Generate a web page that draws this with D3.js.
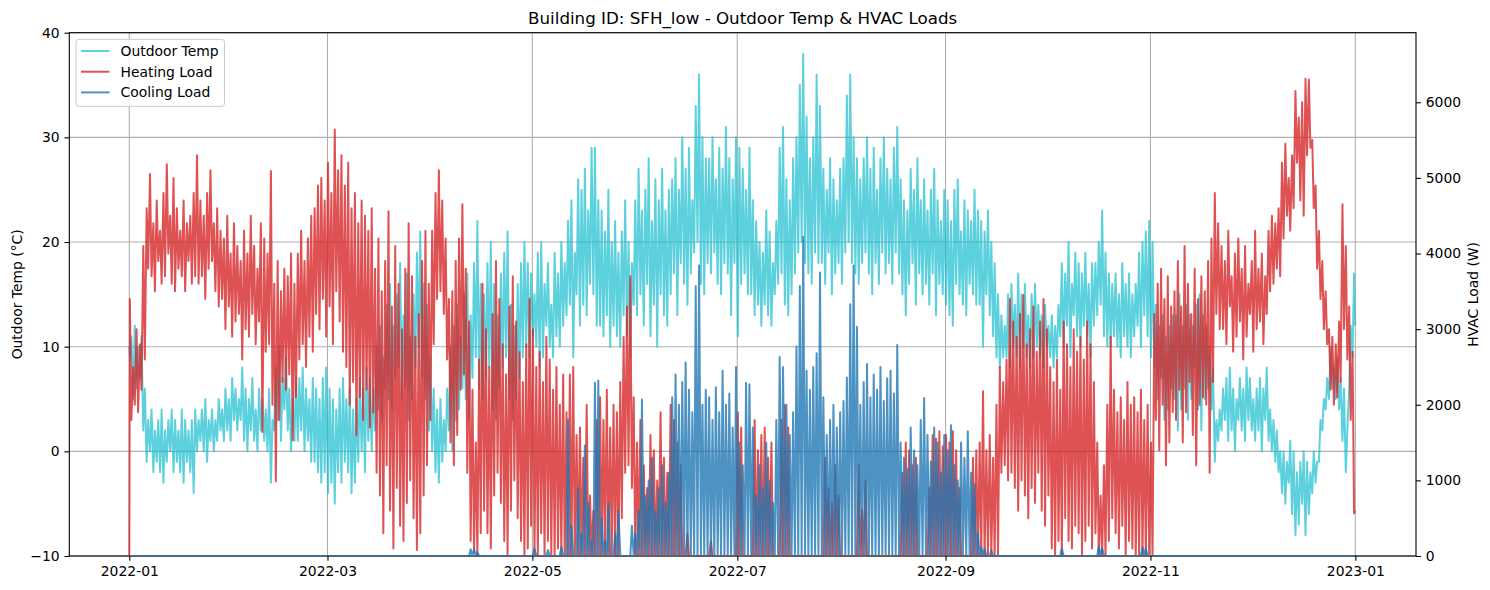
<!DOCTYPE html>
<html><head><meta charset="utf-8">
<script src="https://cdn.jsdelivr.net/npm/d3@7"></script>
<style>
body{margin:0;background:#fff}
svg{display:block}
text{font-family:"DejaVu Sans",sans-serif;fill:#000}
</style>
</head><body>
<svg id="chart" width="1490" height="590"></svg>
<script>
// ---------------- DATA (one value per day of 2022) ----------------
const title = "Building ID: SFH_low - Outdoor Temp & HVAC Loads";
const seriesNames = ["Outdoor Temp", "Heating Load", "Cooling Load"];
const leftTicks = [-10, 0, 10, 20, 30, 40];
const rightTicks = [0, 1000, 2000, 3000, 4000, 5000, 6000];
const yearStart = "2022-01-01";

// daily high outdoor temperature (°C)
const tempMax = [11,12,10,11,6,
3,4,2,3,4,2,3,4,3,2,4,3,2,3,4,
3,4,5,3,4,3,5,4,
6,5,7,6,5,8,
6,5,7,4,6,5,4,6,
3,
8,10,7,9,6,5,7,
7,8,6,5,7,
6,5,7,8,6,5,4,6,7,5,6,4,5,7,6,8,7,6,
10,12,9,14,16,12,15,18,13,17,11,15,19,21,16,14,
9,6,4,5,3,6,10,
12,14,11,15,17,13,18,22,16,
15,18,20,16,13,17,19,21,14,12,16,18,20,
18,17,15,19,20,16,18,14,19,17,20,18,
22,24,19,26,25,27,23,29,29,24,
23,21,25,20,22,19,21,24,20,18,
24,27,23,25,28,22,26,24,27,23,25,
26,28,25,30,27,29,24,33,36,30,28,
28,30,26,29,27,31,28,26,30,29,27,25,29,
24,22,20,19,23,21,18,22,
29,31,26,24,28,30,
35,38,32,28,30,36,33,
27,25,28,26,24,27,28,
34,36,30,28,
26,28,30,27,29,25,28,30,27,26,29,31,
26,24,23,27,25,28,24,26,23,25,27,24,22,25,
24,22,25,26,21,24,23,22,25,23,
22,21,23,20,18,
15,13,12,
15,16,14,17,15,16,13,15,16,14,
13,14,12,13,12,14,
18,17,20,16,19,18,17,19,16,18,
18,20,23,19,17,
16,17,15,18,16,17,15,16,
19,20,21,22,20,
14,12,13,11,12,13,
13,15,12,14,13,12,14,15,13,
12,10,8,
3,4,
6,7,8,6,5,7,6,8,7,5,6,7,6,8,
4,3,2,0,
0,-1,1,0,-2,-1,0,-1,-2,0,-1,
3,5,7,
10,8,9,7,
6,2,
12,17];

// daily low outdoor temperature (°C)
const tempMin = [9,5,6,7,2,
-1,0,-2,-1,-2,-3,-1,0,-2,-1,-2,-3,-1,-2,-4,
0,1,0,-1,1,0,1,2,
1,2,1,3,2,3,
1,0,2,1,0,2,1,0,
-3,
2,3,1,4,2,0,1,
1,2,0,1,-1,
-1,-2,-3,-2,-4,-3,-5,-2,-3,-1,-2,-4,-3,-1,0,-2,1,0,
2,4,3,6,5,4,7,8,5,6,3,5,8,10,7,5,
2,0,-2,-3,-1,0,2,
0,3,4,6,5,3,7,9,6,
5,7,8,4,3,6,8,9,5,3,5,7,9,
10,9,11,10,8,9,12,10,9,11,10,12,
13,14,9,15,12,14,13,16,15,12,
12,11,13,10,12,11,10,13,11,9,
14,13,15,12,16,11,14,10,15,13,12,
15,17,13,18,16,14,17,19,20,16,15,
18,17,19,16,15,18,17,13,18,11,16,17,15,
15,13,14,12,14,13,12,15,
16,17,14,13,15,17,
19,20,18,17,16,19,18,
18,16,19,15,17,18,16,
19,20,18,17,
16,18,19,17,15,18,16,19,17,18,16,19,
17,15,13,16,18,14,17,15,16,14,17,13,16,15,
14,13,12,16,15,14,13,16,15,14,
14,10,15,13,11,
9,8,9,
9,8,10,9,8,10,9,8,9,10,
9,8,10,9,8,9,
11,10,12,9,13,11,10,12,11,9,
12,13,14,11,10,
10,11,10,9,11,10,9,11,
12,10,13,11,9,
8,5,7,3,4,6,
5,2,4,6,3,5,8,4,2,
5,6,4,
-1,1,
2,3,1,2,0,3,2,1,3,2,1,2,0,3,
1,0,-1,-2,
-4,-5,-3,-6,-8,-7,-5,-8,-6,-4,-3,
-1,2,4,
5,6,5,4,
1,-2,
6,9];

// daily night-time peak heating load (W)
const heatMax = [3400,2500,3000,2800,4100,
4600,5050,4400,4700,4300,4800,5180,4500,5000,4600,4300,4700,4400,4500,4800,
5300,4700,4500,4800,5100,4400,4600,4300,
4200,4500,4000,4400,4100,3900,
4300,4000,4500,4100,3800,4400,4200,4000,
5090,
3600,3900,3500,3800,3700,4000,3600,
4000,4300,3900,4200,4500,
4600,4900,5000,4700,5200,4800,5640,5100,5300,4900,5200,4600,4800,4400,4700,4500,4300,4600,
3800,4200,3500,3900,4560,3300,4100,3600,3000,3800,4400,3700,2900,3200,3900,4300,
3600,4300,4800,5100,4700,4200,3400,
3500,3900,4200,4650,3800,3100,2200,1500,2600,
3600,3000,2500,3200,3900,3400,2800,2400,3300,3700,3100,2700,2300,
2800,3400,3000,2500,2700,2300,2900,2600,2200,2500,2000,2400,
1900,2400,2500,1600,1700,1300,2000,800,600,1800,
2100,1800,2200,1700,2000,1900,2300,2900,3300,3700,
2100,1500,1800,1200,900,1600,1400,1000,1900,1300,1100,
2000,1800,1500,1200,
0,300,0,0,0,0,0,0,200,0,0,0,0,0,0,0,
1900,1700,0,0,
0,1800,1400,1600,1700,1300,1500,0,
0,1800,2000,1700,0,0,
0,0,0,0,0,0,0,
0,1300,900,700,1200,800,0,
0,0,0,0,
1200,600,1000,0,0,0,0,0,0,0,0,0,
0,1100,1500,1400,1200,1300,0,0,0,900,1600,1550,1650,1450,
1600,1500,1650,1400,900,0,0,0,1300,1400,
1500,2180,1400,1600,1300,
2000,2500,2300,2600,
3400,3100,2900,3200,3450,2800,3000,3300,2700,3100,3400,3000,
2500,2300,2600,2200,
3100,2800,2500,3000,2700,2900,2600,3100,2800,
2300,1500,800,1200,2000,2900,
2200,1900,2100,1800,2300,2000,
2100,1900,2200,1800,2000,1500,
3200,3600,3800,3400,3700,3300,
3500,3900,3300,4100,3600,3200,3800,3400,3700,
3500,3900,4200,
4800,4400,
4100,3900,4300,3700,4000,4200,3800,4100,3600,3900,4300,3800,4000,3700,
4300,4500,4400,4600,
5200,5450,5000,5300,
6150,5800,6000,6310,6300,5500,
4900,4300,3900,3500,
3000,2900,2800,3100,
4650,4100,
3300,2700];

// daily afternoon low heating load (W)
const heatMin = [1800,2000,1900,2200,2600,
3800,3700,3500,3900,3600,3700,4000,3600,3500,3800,3700,3500,3900,3600,3700,
3600,3700,3400,3800,3900,3500,3300,3400,
3000,3300,2900,3100,3200,2600,
3000,2900,3200,2800,3100,1640,2700,2800,
2000,
990,1800,2300,2200,2400,1530,2100,
2600,2800,2500,2900,2700,
3200,3000,3400,2900,3300,2800,3500,3100,2700,2500,2000,2300,1600,2100,1800,2200,1700,1900,
1100,800,300,1200,600,100,900,400,200,700,1000,500,80,300,800,1200,
1800,2800,3400,3500,3200,2600,1500,
1200,1600,2200,2400,1100,200,50,0,300,
600,300,100,800,1100,700,200,0,600,1000,500,200,0,
100,400,0,0,300,0,200,0,0,100,0,0,
0,0,0,0,0,0,0,0,0,0,
0,0,0,0,0,0,500,1100,1200,900,
0,0,0,0,0,0,0,0,0,0,0,
0,0,0,0,
0,0,0,0,0,0,0,0,0,0,0,0,0,0,0,0,
0,0,0,0,
0,0,0,0,0,0,0,0,
0,0,0,0,0,0,
0,0,0,0,0,0,0,
0,0,0,0,0,0,0,
0,0,0,0,
0,0,0,0,0,0,0,0,0,0,0,0,
0,0,0,0,0,0,0,0,0,0,0,0,0,0,
0,0,0,0,0,0,0,0,0,0,
0,0,0,0,0,
0,1100,1200,1000,
1100,900,600,1000,800,500,900,700,1100,600,400,800,
100,0,200,0,
500,200,100,400,300,0,200,400,100,
300,0,0,0,200,500,
300,100,400,0,200,100,
0,0,0,0,0,0,
1800,1400,2000,1200,1500,1900,
1800,2200,1500,1900,2300,1600,1200,2000,2100,
2000,1100,2300,
3200,3000,
3000,2800,3300,2700,2900,3100,2600,2900,3200,2700,3000,3100,2800,3200,
3500,3600,3800,3700,
4200,4500,4300,4600,
5200,4700,4500,5300,5400,4600,
3800,3400,3000,2800,
2200,2000,2100,2300,
3000,2600,
1800,565];

// daily afternoon peak cooling load (W)
const coolPeak = [
0,0,0,0,0,0,0,0,0,0, 0,0,0,0,0,0,0,0,0,0, 0,0,0,0,0,0,0,0,0,0, 0,0,0,0,0,0,0,0,0,0,
0,0,0,0,0,0,0,0,0,0, 0,0,0,0,0,0,0,0,0,0, 0,0,0,0,0,0,0,0,0,0, 0,0,0,0,0,0,0,0,0,0,
0,0,0,0,0,0,0,0,0,0, 0,0,0,0,0,0,0,0,0,0,
0,90,90,50,0,
0,0,0,0,0,0,0,0,0,0,0,0,0,0,0,
100,0,0,0,80,0,0,0,120,0,
1800,400,0,900,300,1460,700,200,2290,2320,
500,200,700,0,300,600,0,0,0,400,300,600,2070,
800,1000,1300,600,900,1200,700,1100,
2100,2400,2000,2300,2560,2200,1900,3570,3840,
2000,2200,2100,1800,2230,1900,2450,2000,2150,1700,2500,
1500,1200,2290,2270,
1700,800,1200,900,1500,1000,700,1800,
2630,2500,2000,1600,1900,2770,
3570,4220,2450,2200,2500,2680,3750,
2100,1600,1800,2000,1700,1900,2050,
2360,3330,3840,3030,
2000,2300,2540,2100,2400,2200,2500,2050,2350,2450,2150,2790,
1500,1300,1150,1700,1400,1200,1800,2090,1600,1250,
1700,1500,1100,1600,1400,1730,1200,1000,1500,1300,1650,
1100,950,300,
120,100,0,80,0,
0,0,0,0,0,0,0,0,0,0,0,0,0,0,0,0,0,0,0,
100,
0,0,0,0,0,0,0,0,0,0,
130,100,
0,0,0,0,0,0,0,0,0,0,0,
120,100,
0,0,0,0,0,0,0,0,0,0, 0,0,0,0,0,0,0,0,0,0, 0,0,0,0,0,0,0,0,0,0,
0,0,0,0,0,0,0,0,0,0, 0,0,0,0,0,0,0,0,0,0, 0,0,0,0,0,0,0,0,0,0, 0,0];

// first and last hourly readings of the year (temp °C, heating W, cooling W)
const firstReading = [10, 0, 0];
const lastReading = [12, 600, 0];

// ---------------- CHART ----------------
const W = 1490, H = 590;
const L = 69.3, R = 1416, T = 32.7, B = 556;
const DAY = 864e5, HOUR = 36e5;
const t0 = Date.parse(yearStart + "T00:00:00Z");

const svg = d3.select("#chart");
const x = d3.scaleUtc()
  .domain([new Date(t0 - 17.86 * DAY), new Date(t0 + 383.06 * DAY)])
  .range([L, R]);
const yT = d3.scaleLinear().domain([-10, 40]).range([B, T]);
const yH = d3.scaleLinear().domain([0, 6920]).range([B, T]);

const nDays = tempMax.length;
function series(nightVals, dayVals, idx) {
  const pts = [{t: new Date(t0), v: firstReading[idx]}];
  for (let d = 0; d < nDays; d++) {
    pts.push({t: new Date(t0 + d * DAY + 4 * HOUR), v: nightVals[d]});
    pts.push({t: new Date(t0 + d * DAY + 15 * HOUR), v: dayVals[d]});
  }
  pts.push({t: new Date(t0 + (nDays - 1) * DAY + 23 * HOUR), v: lastReading[idx]});
  return pts;
}
const tempData = series(tempMin, tempMax, 0);
const heatData = series(heatMax, heatMin, 1);
const coolData = series(coolPeak.map(() => 0), coolPeak, 2);

const colors = {temp: "#17becf", heat: "#d62728", cool: "#1f77b4"};
const alphas = {temp: 0.7, heat: 0.8, cool: 0.8};
const LW = 2;

svg.append("defs").append("clipPath").attr("id", "clip")
  .append("rect").attr("x", L).attr("y", T).attr("width", R - L).attr("height", B - T);

// grid (left axis + x)
const xTicks = x.ticks(d3.utcMonth.every(2));
const grid = svg.append("g");
grid.selectAll("line.vx").data(xTicks).join("line")
  .attr("x1", d => x(d)).attr("x2", d => x(d)).attr("y1", T).attr("y2", B)
  .attr("stroke", "#b0b0b0").attr("stroke-width", 1.1);
grid.selectAll("line.hy").data(leftTicks).join("line")
  .attr("x1", L).attr("x2", R).attr("y1", d => yT(d)).attr("y2", d => yT(d))
  .attr("stroke", "#b0b0b0").attr("stroke-width", 1.1);

const lineT = d3.line().x(d => x(d.t)).y(d => yT(d.v));
const lineH = d3.line().x(d => x(d.t)).y(d => yH(d.v));

const plot = svg.append("g").attr("clip-path", "url(#clip)");
plot.append("path").datum(tempData).attr("d", lineT)
  .attr("fill", "none").attr("stroke", colors.temp).attr("stroke-opacity", alphas.temp)
  .attr("stroke-width", LW).attr("stroke-linejoin", "round");

// spines
svg.append("rect").attr("x", L).attr("y", T).attr("width", R - L).attr("height", B - T)
  .attr("fill", "none").attr("stroke", "#000").attr("stroke-width", 1.1);

const plot2 = svg.append("g").attr("clip-path", "url(#clip)");
plot2.append("path").datum(heatData).attr("d", lineH)
  .attr("fill", "none").attr("stroke", colors.heat).attr("stroke-opacity", alphas.heat)
  .attr("stroke-width", LW).attr("stroke-linejoin", "round");
plot2.append("path").datum(coolData).attr("d", lineH)
  .attr("fill", "none").attr("stroke", colors.cool).attr("stroke-opacity", alphas.cool)
  .attr("stroke-width", LW).attr("stroke-linejoin", "round");

// axes
const fs = 13.9, tickLen = 4.86, pad = 4.86;
function styleAxis(g) {
  g.select(".domain").remove();
  g.selectAll(".tick line").attr("stroke", "#000").attr("stroke-width", 1.1);
  g.selectAll(".tick text").attr("font-size", fs).attr("font-family", "DejaVu Sans").attr("fill", "#000");
}
svg.append("g").attr("transform", `translate(0,${B})`)
  .call(d3.axisBottom(x).tickValues(xTicks).tickFormat(d3.utcFormat("%Y-%m"))
    .tickSizeInner(tickLen).tickSizeOuter(0).tickPadding(pad))
  .call(styleAxis);
svg.append("g").attr("transform", `translate(${L},0)`)
  .call(d3.axisLeft(yT).tickValues(leftTicks).tickFormat(d => d < 0 ? "\u2212" + Math.abs(d) : d)
    .tickSizeInner(tickLen).tickSizeOuter(0).tickPadding(pad))
  .call(styleAxis);
svg.append("g").attr("transform", `translate(${R},0)`)
  .call(d3.axisRight(yH).tickValues(rightTicks).tickFormat(d3.format("d"))
    .tickSizeInner(tickLen).tickSizeOuter(0).tickPadding(pad))
  .call(styleAxis);

// labels
svg.append("text").attr("x", (L + R) / 2).attr("y", 24).attr("text-anchor", "middle")
  .attr("font-size", 16.7).text(title);
svg.append("text").attr("transform", `translate(21.5,${(T + B) / 2}) rotate(-90)`)
  .attr("text-anchor", "middle").attr("font-size", fs).text("Outdoor Temp (\u00B0C)");
svg.append("text").attr("transform", `translate(1478,${(T + B) / 2}) rotate(-90)`)
  .attr("text-anchor", "middle").attr("font-size", fs).text("HVAC Load (W)");

// legend
const lg = svg.append("g");
lg.append("rect").attr("x", 76).attr("y", 39.3).attr("width", 148.5).attr("height", 67)
  .attr("rx", 2.8).attr("fill", "#fff").attr("fill-opacity", 0.8)
  .attr("stroke", "#cccccc").attr("stroke-width", 1);
const legendItems = [
  {name: seriesNames[0], c: colors.temp, a: alphas.temp},
  {name: seriesNames[1], c: colors.heat, a: alphas.heat},
  {name: seriesNames[2], c: colors.cool, a: alphas.cool}
];
legendItems.forEach((it, i) => {
  const cy = 51 + i * 20.7;
  lg.append("line").attr("x1", 81).attr("x2", 109.5).attr("y1", cy).attr("y2", cy)
    .attr("stroke", it.c).attr("stroke-opacity", it.a).attr("stroke-width", LW);
  lg.append("text").attr("x", 120.5).attr("y", cy).attr("dy", "0.36em")
    .attr("font-size", fs).text(it.name);
});
</script>
</body></html>
